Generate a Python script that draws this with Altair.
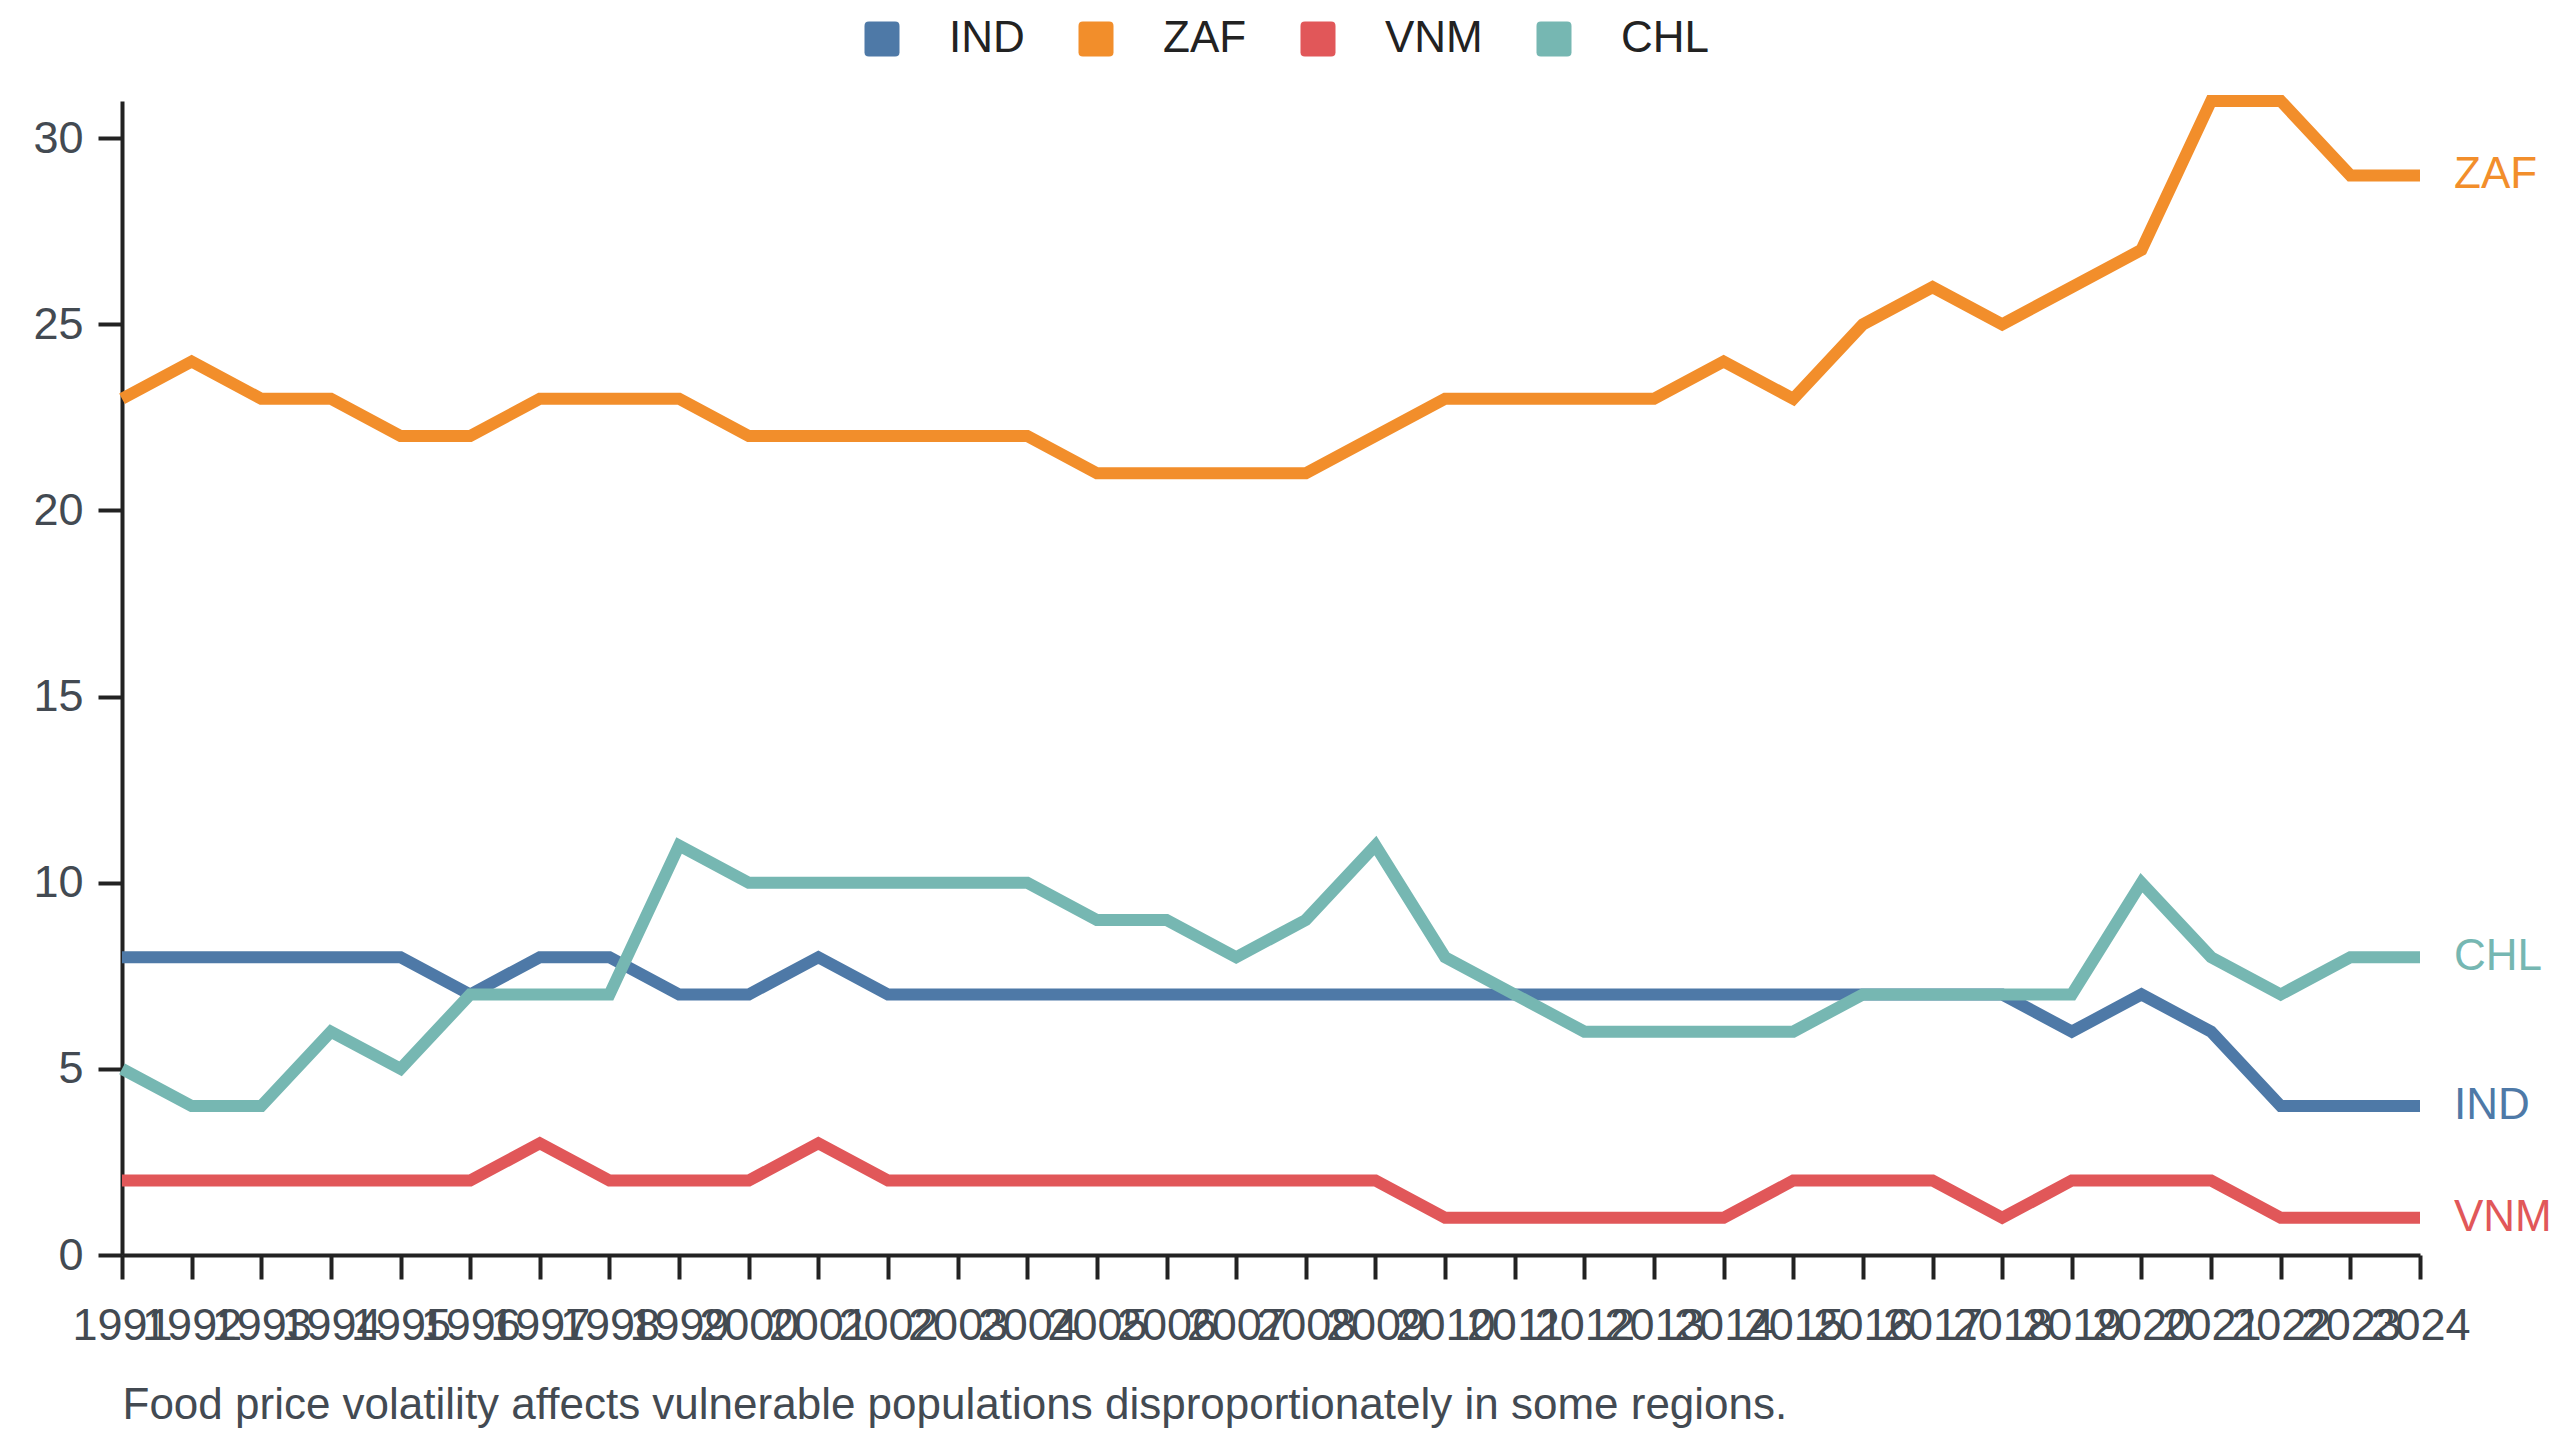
import altair as alt
import pandas as pd

# ---- data ----
years = list(range(1991, 2025))
series_names = ["IND", "ZAF", "VNM", "CHL"]
series_colors = ["#4e79a7", "#f28e2b", "#e15759", "#76b7b2"]

ind = [8, 8, 8, 8, 8, 7, 8, 8, 7, 7,
       8, 7, 7, 7, 7, 7, 7, 7, 7, 7,
       7, 7, 7, 7, 7, 7, 7, 7, 6, 7,
       6, 4, 4, 4]
zaf = [23, 24, 23, 23, 22, 22, 23, 23, 23, 22,
       22, 22, 22, 22, 21, 21, 21, 21, 22, 23,
       23, 23, 23, 24, 23, 25, 26, 25, 26, 27,
       31, 31, 29, 29]
vnm = [2, 2, 2, 2, 2, 2, 3, 2, 2, 2,
       3, 2, 2, 2, 2, 2, 2, 2, 2, 1,
       1, 1, 1, 1, 2, 2, 2, 1, 2, 2,
       2, 1, 1, 1]
chl = [5, 4, 4, 6, 5, 7, 7, 7, 11, 10,
       10, 10, 10, 10, 9, 9, 8, 9, 11, 8,
       7, 6, 6, 6, 6, 7, 7, 7, 7, 10,
       8, 7, 8, 8]

y_ticks = [0, 5, 10, 15, 20, 25, 30]
y_domain = [0, 31]
subtitle = "Food price volatility affects vulnerable populations disproportionately in some regions."

rows = []
for name, vals in zip(series_names, [ind, zaf, vnm, chl]):
    for yr, v in zip(years, vals):
        rows.append({"year": yr, "country": name, "value": v})
df = pd.DataFrame(rows)
last = df[df["year"] == years[-1]]

FONT = "Liberation Sans"
FS = 44
LABEL_GRAY = "#434a52"
AXIS_DARK = "#222222"

color_scale = alt.Scale(domain=series_names, range=series_colors)

x_enc = alt.X(
    "year:Q",
    scale=alt.Scale(domain=[years[0], years[-1]], nice=False, zero=False),
    axis=alt.Axis(
        values=years, format="d", labelOverlap=False, labelFlush=False,
        labelPadding=24, title=subtitle, titleAnchor="start", titleAlign="left",
        titlePadding=35, grid=False,
    ),
)
y_enc = alt.Y(
    "value:Q",
    scale=alt.Scale(domain=y_domain, nice=False),
    axis=alt.Axis(values=y_ticks, title=None, grid=False, labelPadding=15),
)

rounded_square = ("M-0.75,-1H0.75Q1,-1 1,-0.75V0.75Q1,1 0.75,1H-0.75"
                  "Q-1,1 -1,0.75V-0.75Q-1,-1 -0.75,-1Z")

lines = alt.Chart(df).mark_line(strokeWidth=12).encode(
    x=x_enc,
    y=y_enc,
    color=alt.Color("country:N", scale=color_scale, legend=None),
)

labels = alt.Chart(last).mark_text(
    align="left", baseline="middle", dx=34, fontSize=FS, font=FONT
).encode(
    x=x_enc,
    y=y_enc,
    text="country:N",
    color=alt.Color(
        "country:N",
        scale=color_scale,
        legend=alt.Legend(
            orient="none", legendX=738, legendY=-84, direction="horizontal",
            title=None, symbolType=rounded_square, symbolSize=1225,
            symbolStrokeWidth=0, symbolOpacity=1, labelFontSize=FS,
            labelFont=FONT, labelColor="#222222", labelOffset=45,
            columnPadding=49, padding=0,
        ),
    ),
)

chart = (
    alt.layer(lines, labels)
    .resolve_legend(color="independent")
    .properties(
        width=2298,
        height=1154,
        autosize=alt.AutoSizeParams(type="none"),
        padding={"left": 114, "top": 93, "right": 132, "bottom": 180},
        background="white",
    )
    .configure_view(stroke=None)
    .configure_axis(
        domainColor=AXIS_DARK, domainWidth=4, tickColor=AXIS_DARK, tickWidth=4,
        tickSize=24, labelFontSize=FS + 1, labelFont=FONT, labelColor=LABEL_GRAY,
        titleFontSize=FS, titleFont=FONT, titleFontWeight="normal",
        titleColor=LABEL_GRAY,
    )
)

chart.save("out.html", embed_options={"renderer": "svg", "actions": False})
